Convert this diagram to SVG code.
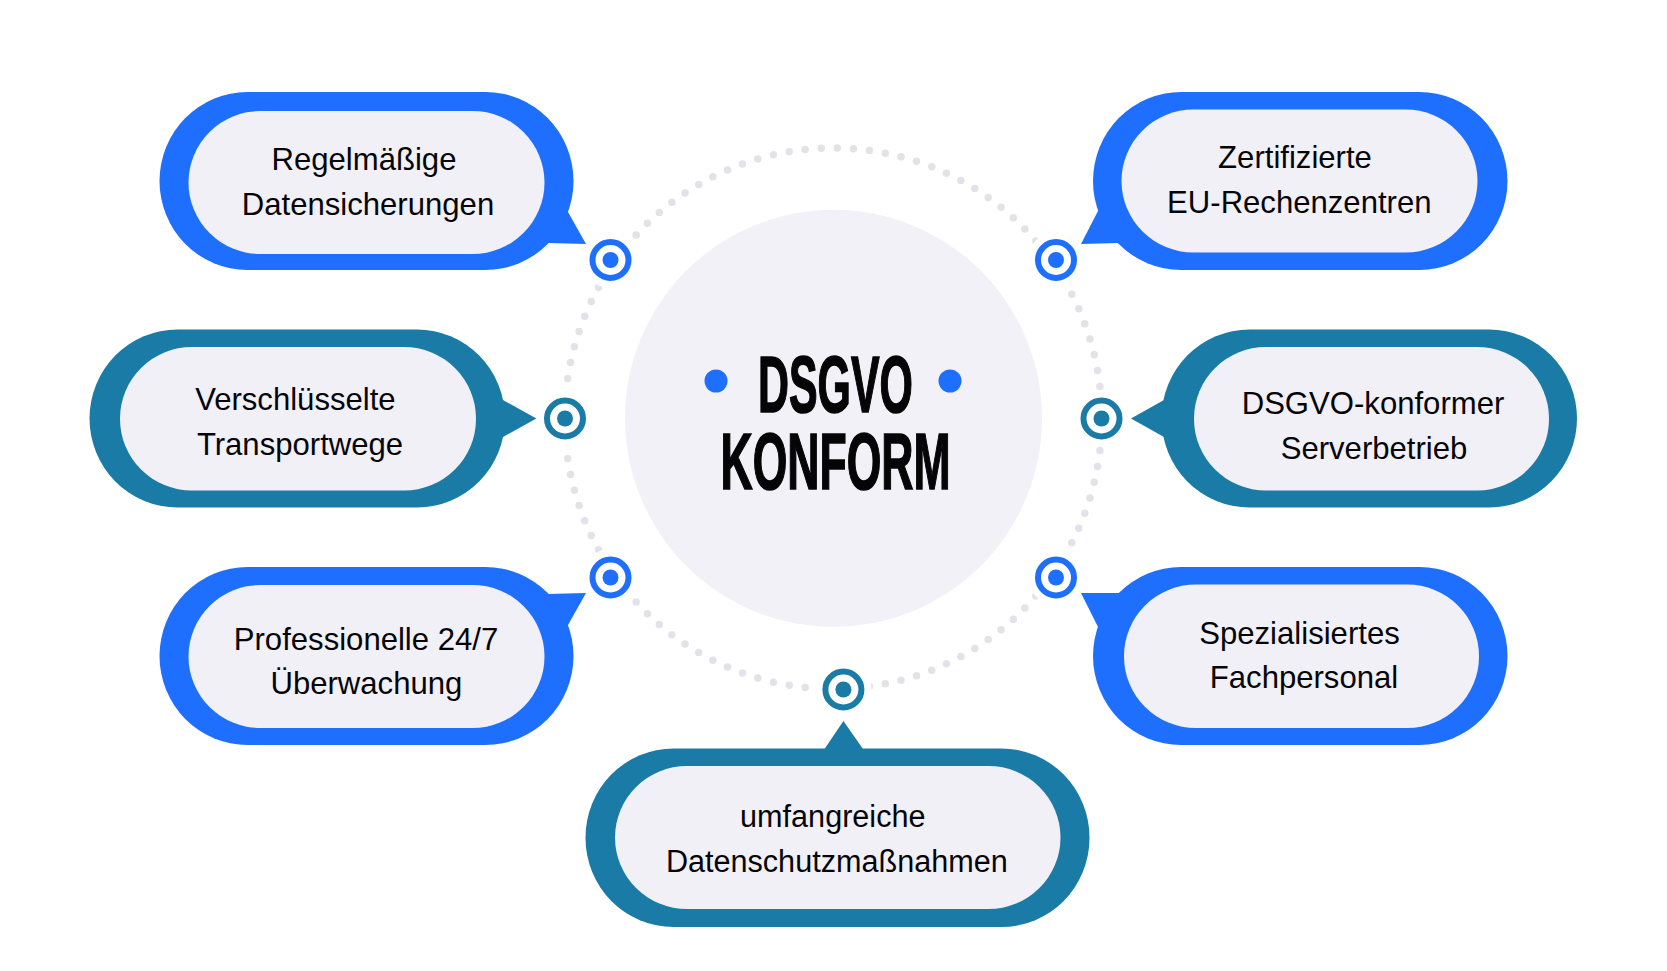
<svg xmlns="http://www.w3.org/2000/svg" width="1667" height="971" viewBox="0 0 1667 971">
<style>
.blue{fill:#1f6fff}.teal{fill:#1a7ba6}
.inner{fill:#f1f0f6}
.label{font-family:"Liberation Sans",Arial,sans-serif;font-size:31.1px;fill:#050508;text-anchor:middle}
.small{font-size:30.6px}
.title{font-family:"Liberation Sans",Arial,sans-serif;font-weight:700;font-size:80px;fill:#050508;stroke:#050508;stroke-width:1.6px}
.halo{fill:#fff}
.h-blue{fill:#fff;stroke:#1f6fff;stroke-width:6}
.h-teal{fill:#fff;stroke:#1a7ba6;stroke-width:6}
</style>
<rect width="1667" height="971" fill="#fff"/>
<g id="connectors">
<ellipse cx="833.3" cy="418.5" rx="268.5" ry="270.5" pathLength="105" fill="none" stroke="#e3e2e8" stroke-width="7.5" stroke-linecap="round" stroke-dasharray="0 1"/>
<circle class="halo" cx="610" cy="260" r="28"/>
<circle class="halo" cx="1056" cy="260" r="28"/>
<circle class="halo" cx="565" cy="418.5" r="28"/>
<circle class="halo" cx="1101.5" cy="418.5" r="28"/>
<circle class="halo" cx="610" cy="577" r="28"/>
<circle class="halo" cx="1056" cy="577" r="28"/>
<circle class="halo" cx="843.4" cy="689" r="28"/>
</g>
<g id="center">
<circle cx="833.5" cy="418.3" r="208.5" fill="#f2f1f7"/>
<circle class="blue" cx="716" cy="381" r="11.5"/>
<circle class="blue" cx="950" cy="381" r="11.5"/>
<text class="title" x="758" y="412" textLength="155" lengthAdjust="spacingAndGlyphs">DSGVO</text>
<text class="title" x="720.5" y="489" textLength="230" lengthAdjust="spacingAndGlyphs">KONFORM</text>
</g>
<g id="node-datensicherungen">
<rect class="blue" x="159.5" y="92" width="414" height="178" rx="88" ry="89"/>
<polygon class="blue" points="568,212 586,244 548,243 530,200"/>
<rect class="inner" x="188.5" y="111" width="356" height="143" rx="72" ry="71.5"/>
<text class="label" x="364" y="170">Regelmäßige</text>
<text class="label" x="368" y="215">Datensicherungen</text>
<circle class="h-blue" cx="610.5" cy="260" r="18"/><circle class="blue" cx="610.5" cy="260" r="8"/>
</g>
<g id="node-transportwege">
<rect class="teal" x="89.5" y="329.5" width="415.5" height="178" rx="88" ry="89"/>
<polygon class="teal" points="503,400 536.4,418.5 503,437"/>
<rect class="inner" x="120" y="347" width="356" height="143.5" rx="72" ry="71.5"/>
<text class="label" x="295.4" y="410">Verschlüsselte</text>
<text class="label" x="300" y="455">Transportwege</text>
<circle class="h-teal" cx="565" cy="418.5" r="18"/><circle class="teal" cx="565" cy="418.5" r="8"/>
</g>
<g id="node-ueberwachung">
<rect class="blue" x="159.5" y="567" width="414" height="178" rx="88" ry="89"/>
<polygon class="blue" points="547,594 586,593 568,625 530,640"/>
<rect class="inner" x="188.5" y="585" width="356" height="143" rx="72" ry="71.5"/>
<text class="label" x="366" y="650">Professionelle 24/7</text>
<text class="label" x="366.4" y="694">Überwachung</text>
<circle class="h-blue" cx="610.5" cy="577.5" r="18"/><circle class="blue" cx="610.5" cy="577.5" r="8"/>
</g>
<g id="node-rechenzentren">
<rect class="blue" x="1093" y="92" width="414.5" height="178" rx="88" ry="89"/>
<polygon class="blue" points="1098,211 1081,244 1119,243 1135,200"/>
<rect class="inner" x="1121.5" y="109.5" width="356" height="143" rx="72" ry="71.5"/>
<text class="label" x="1295" y="168">Zertifizierte</text>
<text class="label" x="1299.3" y="213">EU-Rechenzentren</text>
<circle class="h-blue" cx="1056" cy="260" r="18"/><circle class="blue" cx="1056" cy="260" r="8"/>
</g>
<g id="node-serverbetrieb">
<rect class="teal" x="1161.5" y="329.5" width="415.5" height="178" rx="88" ry="89"/>
<polygon class="teal" points="1164,400 1131,418.5 1164,437"/>
<rect class="inner" x="1194" y="347" width="355" height="143.5" rx="72" ry="71.5"/>
<text class="label" x="1373" y="414">DSGVO-konformer</text>
<text class="label" x="1374" y="459">Serverbetrieb</text>
<circle class="h-teal" cx="1101.5" cy="418.5" r="18"/><circle class="teal" cx="1101.5" cy="418.5" r="8"/>
</g>
<g id="node-fachpersonal">
<rect class="blue" x="1093" y="567" width="414.5" height="178" rx="88" ry="89"/>
<polygon class="blue" points="1119,593 1081,593 1098,627 1135,640"/>
<rect class="inner" x="1124" y="584.5" width="355" height="143.5" rx="72" ry="71.5"/>
<text class="label" x="1299.5" y="644">Spezialisiertes</text>
<text class="label" x="1304" y="688">Fachpersonal</text>
<circle class="h-blue" cx="1056" cy="577.5" r="18"/><circle class="blue" cx="1056" cy="577.5" r="8"/>
</g>
<g id="node-datenschutz">
<rect class="teal" x="585.5" y="748.5" width="504" height="178.5" rx="88" ry="89"/>
<polygon class="teal" points="824.5,749 843.4,721 863,749"/>
<rect class="inner" x="615" y="766" width="445.5" height="143" rx="72" ry="71.5"/>
<text class="label small" x="832.8" y="827">umfangreiche</text>
<text class="label small" x="836.8" y="872">Datenschutzmaßnahmen</text>
<circle class="h-teal" cx="843.4" cy="689.5" r="18"/><circle class="teal" cx="843.4" cy="689.5" r="8"/>
</g>
</svg>
